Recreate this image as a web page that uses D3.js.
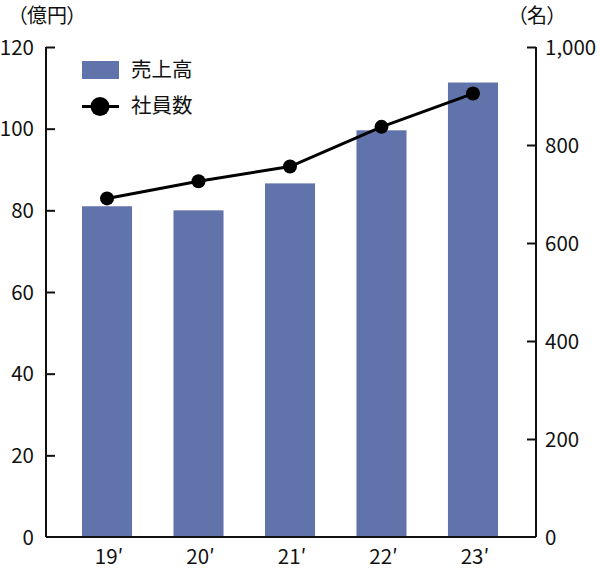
<!DOCTYPE html>
<html><head><meta charset="utf-8">
<script src="https://cdn.jsdelivr.net/npm/d3@7"></script>
<style>body{margin:0;background:#fff}svg{display:block}text{font-family:"Noto Sans CJK JP","Noto Sans",sans-serif;fill:#111}.unit{font-feature-settings:"palt"}</style>
</head><body><svg id="c" width="600" height="569"></svg>
<script>
const categories = ["19′","20′","21′","22′","23′"];
const sales = [81.0, 80.0, 86.6, 99.6, 111.3];
const employees = [691, 726, 756, 837, 905];
const leftTicks = [0,20,40,60,80,100,120];
const rightTicks = [0,200,400,600,800,1000];

const svg = d3.select("#c");
const L = 46, R = 536, T = 47, B = 537;
const x = d3.scaleBand().domain(categories).range([82, 498]).paddingInner(0.453).paddingOuter(0);
const yL = d3.scaleLinear().domain([0,120]).range([B, T]);
const yR = d3.scaleLinear().domain([0,1000]).range([B, T]);
const fmt = d3.format(",");

// bars
svg.append("g").selectAll("rect").data(sales).join("rect")
  .attr("x",(d,i)=>x(categories[i])).attr("width",x.bandwidth())
  .attr("y",d=>yL(d)).attr("height",d=>B-yL(d)).attr("fill","#6173ab");

// left axis
const gl = svg.append("g").attr("transform",`translate(${L},0)`)
  .call(d3.axisRight(yL).tickValues(leftTicks).tickSize(9).tickFormat(d=>d));
gl.select(".domain").attr("d",`M0,${T}V${B}`).attr("stroke","#111").attr("stroke-width",2);
gl.selectAll(".tick line").attr("stroke","#111").attr("stroke-width",2);
gl.selectAll(".tick text").attr("x",-12).attr("text-anchor","end").attr("font-size",20.5).attr("dy","0.35em");

// right axis
const gr = svg.append("g").attr("transform",`translate(${R},0)`)
  .call(d3.axisLeft(yR).tickValues(rightTicks).tickSize(9).tickFormat(fmt));
gr.select(".domain").attr("d",`M0,${T}V${B}`).attr("stroke","#111").attr("stroke-width",2);
gr.selectAll(".tick line").attr("stroke","#111").attr("stroke-width",2);
gr.selectAll(".tick text").attr("x",9).attr("text-anchor","start").attr("font-size",20.5).attr("dy","0.35em");
gr.selectAll(".tick").filter(d=>d===0).select("line").remove();
gl.selectAll(".tick").filter(d=>d===0).select("line").remove();

// bottom axis
const gb = svg.append("g").attr("transform",`translate(0,${B})`)
  .call(d3.axisBottom(x).tickSize(0));
gb.select(".domain").attr("d",`M${L},0H${R}`).attr("stroke","#111").attr("stroke-width",2);
gb.selectAll(".tick text").attr("y",12).attr("dy","0.71em").attr("font-size",20.5).attr("dx",2);

// line
const cx = (i)=>x(categories[i])+x.bandwidth()/2;
svg.append("path").datum(employees)
  .attr("d",d3.line().x((d,i)=>cx(i)).y(d=>yR(d)))
  .attr("fill","none").attr("stroke","#000").attr("stroke-width",3);
svg.append("g").selectAll("circle").data(employees).join("circle")
  .attr("cx",(d,i)=>cx(i)).attr("cy",d=>yR(d)).attr("r",7).attr("fill","#000");

// unit labels
svg.append("text").attr("class","unit").attr("x",17).attr("y",23).attr("font-size",20).text("（億円）");
svg.append("text").attr("class","unit").attr("x",517).attr("y",23).attr("font-size",20).text("（名）");

// legend
svg.append("rect").attr("x",82).attr("y",61).attr("width",37).attr("height",18).attr("fill","#6173ab");
svg.append("text").attr("x",131).attr("y",77).attr("font-size",20.5).text("売上高");
svg.append("line").attr("x1",82).attr("x2",119).attr("y1",106.5).attr("y2",106.5).attr("stroke","#000").attr("stroke-width",3);
svg.append("circle").attr("cx",100).attr("cy",106.5).attr("r",9.5).attr("fill","#000");
svg.append("text").attr("x",131).attr("y",113).attr("font-size",20.5).text("社員数");
</script></body></html>
